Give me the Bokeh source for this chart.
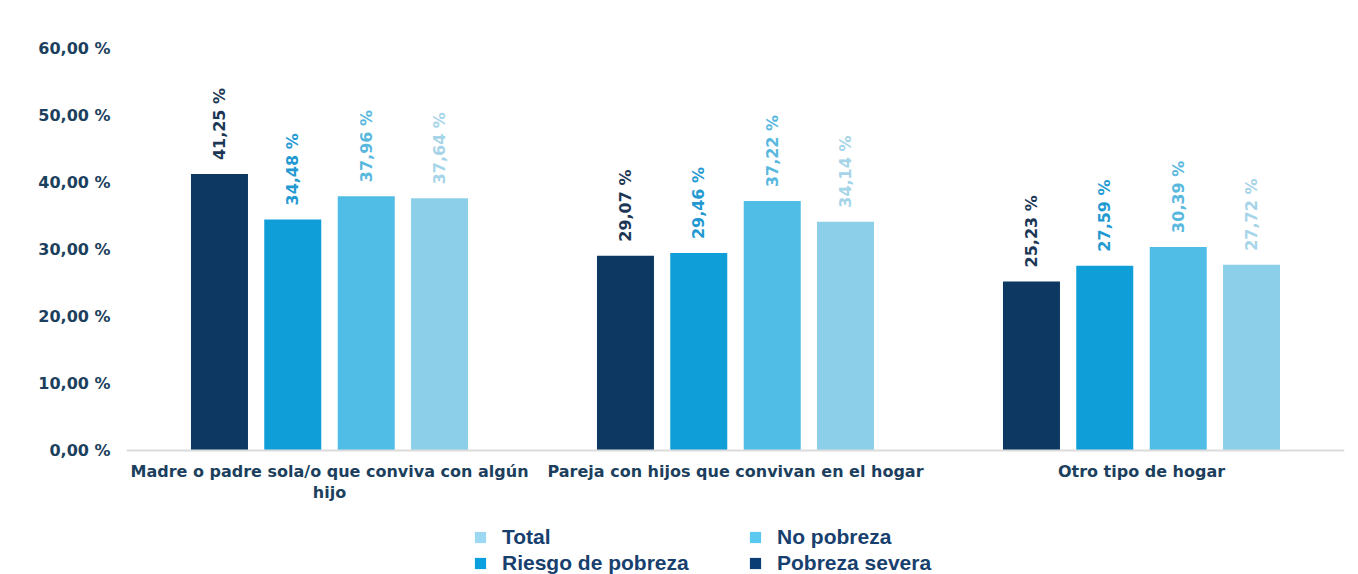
from bokeh.plotting import figure
from bokeh.models import FactorRange, Range1d, Legend, LegendItem, ColumnDataSource, Span
from bokeh.transform import dodge
from bokeh.core.properties import value
from bokeh.embed import file_html
from bokeh.resources import INLINE
import math

categories = ["Madre o padre sola/o que conviva con algún\nhijo",
              "Pareja con hijos que convivan en el hogar",
              "Otro tipo de hogar"]
series_names = ["Pobreza severa", "Riesgo de pobreza", "No pobreza", "Total"]
pobreza_severa = [41.25, 29.07, 25.23]
riesgo_pobreza = [34.48, 29.46, 27.59]
no_pobreza = [37.96, 37.22, 30.39]
total = [37.64, 34.14, 27.72]
y_ticks = [0, 10, 20, 30, 40, 50, 60]

bar_colors = ["#0c3861", "#0f9ed8", "#4fbde5", "#8ccfe9"]
label_colors = ["#1c3655", "#2399d2", "#58b8de", "#a6d4e8"]
legend_colors = ["#0a3d73", "#0aa0e0", "#5ac8ef", "#9dd8f2"]
offsets = [-0.271, -0.0905, 0.0905, 0.271]


def fmt(v):
    return f"{v:.2f}".replace(".", ",") + " %"


# frame spans down to the bottom of the page so that the category labels and the
# legend (drawn inside it) are not clipped; y range keeps 6.7 px per percent point
p = figure(x_range=FactorRange(*categories, range_padding=0), y_range=Range1d(-18.51, 60),
           width=1358, height=574, output_backend="svg", toolbar_location=None,
           x_axis_location=None,
           min_border_left=126, min_border_right=14, min_border_top=48, min_border_bottom=0)
p.outline_line_color = None
p.xgrid.grid_line_color = None
p.ygrid.grid_line_color = None

legend_renderers = {}
for name, vals, bc, lc, gc, off in zip(series_names,
                                         [pobreza_severa, riesgo_pobreza, no_pobreza, total],
                                         bar_colors, label_colors, legend_colors, offsets):
    src = ColumnDataSource(dict(x=categories, y=vals, t=[fmt(v) for v in vals]))
    p.vbar(x=dodge("x", off, range=p.x_range), top="y", bottom=0, width=0.1404,
           source=src, fill_color=bc, line_color=None)
    p.text(x=dodge("x", off, range=p.x_range), y="y", text="t", source=src,
           angle=math.pi / 2, y_offset=-14, text_align="left", text_baseline="middle",
           text_font=value("DejaVu Sans"), text_font_style="bold", text_font_size="16px",
           text_color=lc)
    # legend swatch renderer (zero-height bar) with the legend's own colour
    legend_renderers[name] = p.vbar(x=[categories[0]], top=[0], bottom=[0], width=0.0,
                                    fill_color=gc, line_color=None)

# baseline
p.add_layout(Span(location=0, dimension="width", line_color="#dcdcdc", line_width=2))

# category labels
p.text(x=categories, y=[0] * len(categories), text=categories, y_offset=12,
       text_align="center", text_baseline="top", text_line_height=1.1,
       text_font=value("DejaVu Sans"), text_font_style="bold", text_font_size="16px",
       text_color="#1c3f5e")

# y axis
p.yaxis.ticker = y_ticks
p.yaxis.major_label_overrides = {t: fmt(t) for t in y_ticks}
p.yaxis.axis_line_color = None
p.yaxis.major_tick_line_color = None
p.yaxis.minor_tick_line_color = None
p.yaxis.major_label_standoff = 10
p.yaxis.major_label_text_font = "DejaVu Sans"
p.yaxis.major_label_text_font_style = "bold"
p.yaxis.major_label_text_font_size = "16px"
p.yaxis.major_label_text_color = "#1c3f5e"

# legend (order: Total, No pobreza / Riesgo de pobreza, Pobreza severa)
order = ["Total", "No pobreza", "Riesgo de pobreza", "Pobreza severa"]
legend = Legend(items=[LegendItem(label=n, renderers=[legend_renderers[n]]) for n in order],
                location=(347, -1), orientation="horizontal", ncols=2,
                glyph_width=14, glyph_height=14, label_standoff=15, label_width=244,
                label_height=20, spacing=2, padding=0, margin=0,
                border_line_color=None, background_fill_alpha=0,
                label_text_font="Liberation Sans", label_text_font_style="bold",
                label_text_font_size="21px", label_text_color="#17406e")
p.add_layout(legend, "center")

open("out.html", "w").write(file_html(p, INLINE))
